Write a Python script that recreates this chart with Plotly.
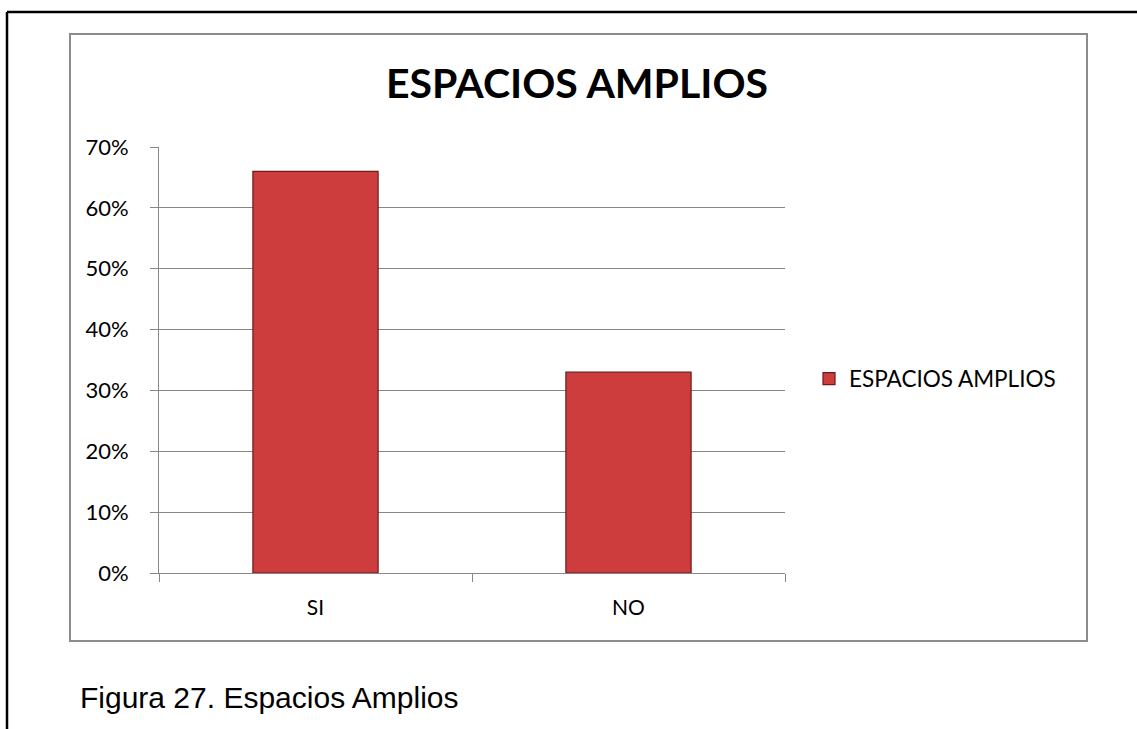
import plotly.graph_objects as go

categories = ["SI", "NO"]
values = [0.66, 0.33]
series_name = "ESPACIOS AMPLIOS"
title_text = "ESPACIOS AMPLIOS"
caption_text = "Figura 27. Espacios Amplios"
y_ticks = [0, 0.1, 0.2, 0.3, 0.4, 0.5, 0.6, 0.7]

W, H = 1137, 729
L, R, T, B = 159, 785, 147, 573  # plot area in pixels


def px(x):
    return (x - L) / (R - L)


def py(y):
    return (B - y) / (B - T)


fig = go.Figure()
fig.add_trace(go.Bar(
    x=categories, y=values, name=series_name,
    marker=dict(color="#CD3D3D", line=dict(color="#6E1A1A", width=1.2)),
    width=0.40, showlegend=True,
))

shapes = [
    # outer black border (top and left)
    dict(type="line", xref="paper", yref="paper", x0=px(7), x1=px(1140), y0=py(12), y1=py(12),
         line=dict(color="black", width=2.5), layer="above"),
    dict(type="line", xref="paper", yref="paper", x0=px(7), x1=px(7), y0=py(12), y1=py(740),
         line=dict(color="black", width=2.5), layer="above"),
    # gray chart frame
    dict(type="rect", xref="paper", yref="paper", x0=px(70), x1=px(1087), y0=py(34), y1=py(641),
         line=dict(color="#8C8C8C", width=2), layer="below"),
]

fig.update_layout(
    width=W, height=H,
    margin=dict(l=L, r=W - R, t=T, b=H - B, pad=0),
    paper_bgcolor="white", plot_bgcolor="white",
    font=dict(family="Lato", color="black"),
    title=dict(text="<b>%s</b>" % title_text, x=px(577), xref="paper", xanchor="center",
               y=1 - 84 / H, yref="container", yanchor="middle",
               font=dict(family="Lato", size=41, color="black")),
    xaxis=dict(showline=True, linecolor="#868686", linewidth=1, ticks="outside", ticklen=8,
               tickcolor="#868686", tickson="boundaries", showgrid=False,
               tickfont=dict(size=21, family="Lato"), range=[-0.5, 1.5],
               ticklabelstandoff=16),
    yaxis=dict(range=[0, 0.7], tickvals=y_ticks, tickformat=".0%", showline=True,
               linecolor="#868686", linewidth=1, ticks="outside", ticklen=8, tickcolor="#868686",
               showgrid=True, gridcolor="#868686", gridwidth=1, zeroline=False,
               tickfont=dict(size=22, family="Lato"), ticklabelstandoff=17),
    legend=dict(x=px(809), y=py(379), xanchor="left", yanchor="middle",
                font=dict(size=22.5, family="Lato"), bgcolor="rgba(0,0,0,0)"),
    bargap=0.6,
    shapes=shapes,
    annotations=[dict(text=caption_text, xref="paper", yref="paper", x=px(78), y=py(697),
                      xanchor="left", yanchor="middle", showarrow=False,
                      font=dict(family="Liberation Sans", size=30, color="black"))],
)

fig.write_html("out.html", config={"displayModeBar": False},
               post_script="document.body.style.margin='0';")
